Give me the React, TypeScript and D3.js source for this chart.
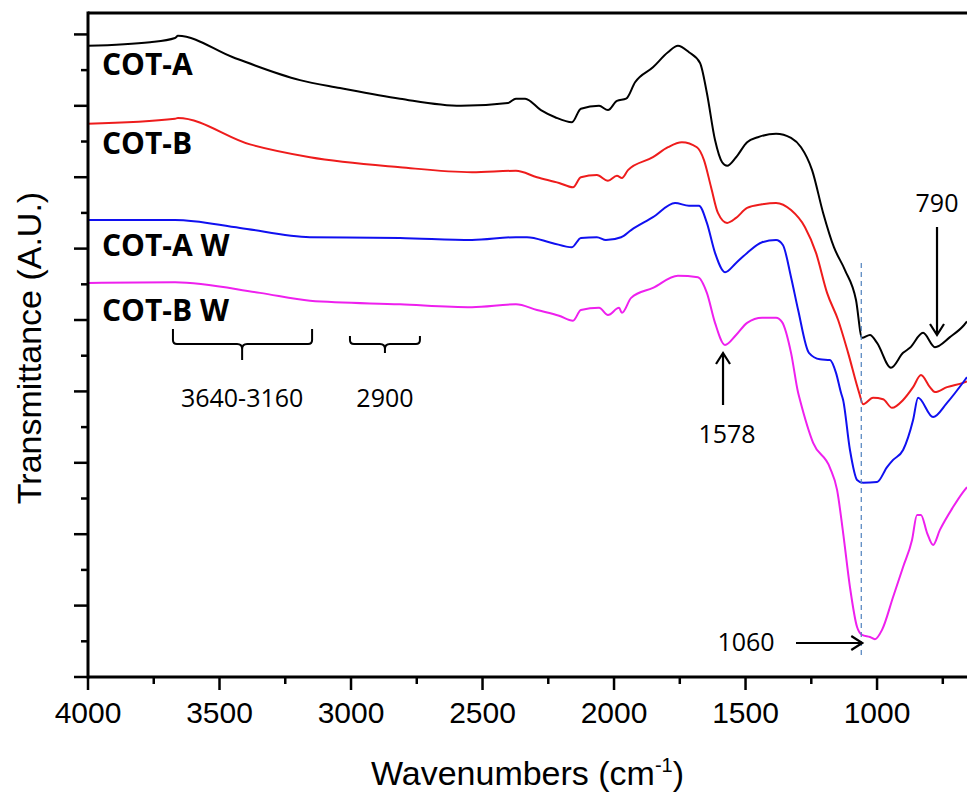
import React from "react";
import * as d3 from "d3";

// Wavenumber (cm-1), transmittance (A.U., offset traces)
const cotA: [number, number][] = [
  [4000, 88.4], [3764, 88.9], [3669, 89.5], [3658, 89.8], [3449, 86.8], [3194, 83.6], [3042, 82.5],
  [2814, 81.0], [2582, 80.0], [2403, 80.4], [2373, 81.0], [2338, 81.0], [2278, 79.4], [2224, 78.4],
  [2160, 77.7], [2126, 79.6], [2057, 80.0], [2023, 79.4], [1989, 80.7], [1954, 81.0], [1920, 83.3],
  [1852, 85.4], [1795, 87.5], [1757, 88.4], [1715, 87.5], [1673, 86.0], [1647, 81.8], [1616, 75.2],
  [1589, 72.1], [1570, 71.6], [1536, 72.8], [1494, 74.9], [1453, 75.6], [1384, 76.1], [1327, 75.5],
  [1289, 74.2], [1247, 71.0], [1205, 65.0], [1164, 60.2], [1122, 57.0], [1080, 52.8], [1057, 47.5],
  [1027, 47.9], [1000, 46.8], [947, 43.3], [901, 45.4], [875, 46.1], [825, 48.2], [780, 46.2],
  [723, 47.6], [669, 49.3], [658, 49.8],
];
const cotB: [number, number][] = [
  [4000, 77.5], [3669, 78.2], [3658, 78.3], [3384, 74.6], [3156, 72.8], [2814, 71.4], [2540, 70.7],
  [2373, 70.9], [2293, 70.0], [2209, 69.2], [2156, 68.6], [2126, 70.0], [2065, 70.3], [2023, 69.5],
  [1989, 70.2], [1970, 69.9], [1947, 71.0], [1852, 72.8], [1795, 74.2], [1742, 74.9], [1685, 74.2],
  [1658, 72.4], [1631, 68.6], [1605, 65.0], [1570, 63.6], [1536, 64.3], [1494, 65.7], [1437, 66.2],
  [1384, 66.4], [1327, 65.4], [1274, 63.0], [1232, 59.4], [1190, 53.8], [1148, 50.0], [1110, 45.4],
  [1068, 39.8], [1053, 38.2], [1015, 39.1], [977, 38.9], [943, 37.7], [901, 38.8], [863, 40.6],
  [833, 42.3], [799, 40.6], [780, 39.9], [734, 40.6], [673, 41.2], [658, 41.4],
];
const cotAW: [number, number][] = [
  [4000, 64.0], [3669, 64.0], [3422, 62.9], [3156, 61.6], [2814, 61.5], [2540, 61.2], [2373, 61.6],
  [2331, 61.6], [2236, 60.8], [2160, 60.2], [2126, 61.5], [2065, 61.6], [2031, 61.2], [1973, 61.6],
  [1935, 62.6], [1852, 64.4], [1768, 66.4], [1715, 66.0], [1677, 66.0], [1647, 63.6], [1616, 59.4],
  [1578, 56.7], [1536, 58.0], [1494, 59.4], [1437, 60.9], [1384, 61.2], [1358, 60.5], [1327, 56.0],
  [1300, 51.4], [1259, 45.4], [1217, 44.5], [1179, 44.4], [1156, 42.6], [1137, 39.8], [1129, 38.8],
  [1103, 31.8], [1076, 27.6], [1053, 27.2], [1000, 27.3], [962, 29.4], [939, 30.4], [901, 31.8],
  [863, 36.0], [844, 39.1], [787, 36.4], [734, 38.4], [666, 41.6], [658, 42.0],
];
const cotBW: [number, number][] = [
  [4000, 55.2], [3669, 55.3], [3346, 53.8], [3156, 52.7], [2814, 52.2], [2540, 51.8], [2373, 52.2],
  [2293, 51.4], [2209, 50.6], [2156, 49.9], [2126, 51.4], [2057, 51.7], [2023, 50.7], [1981, 51.7],
  [1970, 51.0], [1935, 53.1], [1852, 54.5], [1757, 56.2], [1681, 56.0], [1647, 53.8], [1616, 49.6],
  [1578, 46.5], [1536, 47.9], [1494, 49.6], [1437, 50.3], [1384, 50.3], [1361, 49.7], [1327, 45.4],
  [1300, 39.8], [1293, 38.8], [1243, 32.8], [1179, 29.3], [1152, 26.2], [1129, 20.2], [1103, 12.6],
  [1076, 7.0], [1057, 5.9], [1027, 5.6], [1008, 5.3], [981, 6.6], [939, 11.2], [901, 15.4],
  [867, 19.2], [848, 22.7], [833, 22.7], [810, 20.2], [787, 18.5], [761, 20.6], [711, 23.8],
  [673, 25.9], [658, 26.6],
];

const seriesNames = ["COT-A", "COT-B", "COT-A W", "COT-B W"];
const seriesData = [cotA, cotB, cotAW, cotBW];
const seriesColors = ["#000000", "#ee1c1c", "#1010f0", "#ee20ee"];
const labelY = [84.3, 73.2, 58.9, 49.8];

const xMajorTicks = [4000, 3500, 3000, 2500, 2000, 1500, 1000];
const xMinorTicks = [3750, 3250, 2750, 2250, 1750, 1250, 750];
const yMajorTicks = [0, 10, 20, 30, 40, 50, 60, 70, 80, 90];
const yMinorTicks = [5, 15, 25, 35, 45, 55, 65, 75, 85];

const W = 967;
const H = 796;
const L = 88;
const R = 967;
const T = 13;
const B = 677;

export default function App() {
  const x = d3.scaleLinear().domain([4000, 658]).range([L, R]);
  const y = d3.scaleLinear().domain([0, 93]).range([B, T]);
  const line = d3
    .line<[number, number]>()
    .x((d) => x(d[0]))
    .y((d) => y(d[1]))
    .curve(d3.curveMonotoneX);

  const sans = "'Liberation Sans', Arial, sans-serif";
  const ann = "'Open Sans', sans-serif";

  const bracket = (w1: number, w2: number, wc: number, top: number, h: number, stem: number) => {
    const l = x(w1), r = x(w2), c = x(wc);
    return `M${l},${top} L${l},${h - 4} Q${l},${h} ${l + 4},${h} L${c - 5},${h} Q${c},${h} ${c},${h + 5} L${c},${stem} M${c},${h + 5} Q${c},${h} ${c + 5},${h} L${r - 4},${h} Q${r},${h} ${r},${h - 4} L${r},${top}`;
  };

  return (
    <div style={{ position: "absolute", left: 0, top: 0 }}>
      <svg width={W} height={H} style={{ display: "block", background: "#fff" }}>
        <defs>
          <clipPath id="plot">
            <rect x={L} y={T} width={R - L} height={B - T} />
          </clipPath>
        </defs>
        <rect width={W} height={H} fill="#fff" />
        <g clipPath="url(#plot)">
          {seriesData.map((d, i) => (
            <path key={i} d={line(d) || ""} fill="none" stroke={seriesColors[i]} strokeWidth={2} strokeLinejoin="round" />
          ))}
        </g>
        {/* dashed 1060 line */}
        <line x1={x(1060)} x2={x(1060)} y1={263} y2={656} stroke="#4f81bd" strokeWidth={1.2} strokeDasharray="5,4" />
        {/* axes */}
        <line x1={L} x2={R} y1={B} y2={B} stroke="#000" strokeWidth={3} />
        <line x1={L} x2={R} y1={T} y2={T} stroke="#000" strokeWidth={3} />
        <line x1={L} x2={L} y1={T - 1.5} y2={B + 1.5} stroke="#000" strokeWidth={3} />
        {xMajorTicks.map((t) => (
          <g key={"xm" + t}>
            <line x1={x(t)} x2={x(t)} y1={B} y2={B + 13} stroke="#000" strokeWidth={2.5} />
            <text x={x(t)} y={723} textAnchor="middle" fontFamily={sans} fontSize={30}>{t}</text>
          </g>
        ))}
        {xMinorTicks.map((t) => (
          <line key={"xn" + t} x1={x(t)} x2={x(t)} y1={B} y2={B + 7} stroke="#000" strokeWidth={2.5} />
        ))}
        {yMajorTicks.map((t) => (
          <line key={"ym" + t} x1={L - 14} x2={L} y1={y(t)} y2={y(t)} stroke="#000" strokeWidth={2.5} />
        ))}
        {yMinorTicks.map((t) => (
          <line key={"yn" + t} x1={L - 7} x2={L} y1={y(t)} y2={y(t)} stroke="#000" strokeWidth={2.5} />
        ))}
        {/* axis titles */}
        <text x={(L + R) / 2} y={785} textAnchor="middle" fontFamily={sans} fontSize={34}>
          Wavenumbers (cm<tspan dy={-13} fontSize={20}>-1</tspan><tspan dy={13}>)</tspan>
        </text>
        <text transform={`translate(41,348) rotate(-90)`} textAnchor="middle" fontFamily={sans} fontSize={34}>
          Transmittance (A.U.)
        </text>
        {/* series labels */}
        {seriesNames.map((n, i) => (
          <text key={n} x={102} y={y(labelY[i])} fontFamily={ann} fontWeight={700} fontSize={30} fill="#000">{n}</text>
        ))}
        {/* brackets */}
        <path d={bracket(3677, 3148, 3414, 329, 344, 360)} fill="none" stroke="#000" strokeWidth={2} />
        <path d={bracket(3004, 2738, 2871, 336, 344, 353)} fill="none" stroke="#000" strokeWidth={2} />
        <text x={x(3414)} y={407} textAnchor="middle" fontFamily={ann} fontSize={25}>3640-3160</text>
        <text x={x(2871)} y={407} textAnchor="middle" fontFamily={ann} fontSize={25}>2900</text>
        {/* 1578 arrow */}
        <path d={`M${x(1578) - 2},405 L${x(1578) - 2},353 M${x(1578) - 9},364 L${x(1578) - 2},353 L${x(1578) + 5},364`} fill="none" stroke="#000" strokeWidth={2.2} />
        <text x={x(1578) + 2} y={443} textAnchor="middle" fontFamily={ann} fontSize={25}>1578</text>
        {/* 1060 arrow */}
        <path d={`M796,643 L${x(1060) + 1},643 M${x(1060) - 10},636 L${x(1060) + 1},643 L${x(1060) - 10},650`} fill="none" stroke="#000" strokeWidth={2.2} />
        <text x={746} y={651} textAnchor="middle" fontFamily={ann} fontSize={25}>1060</text>
        {/* 790 arrow */}
        <path d={`M${x(772)},227 L${x(772)},335 M${x(772) - 7},324 L${x(772)},335 L${x(772) + 7},324`} fill="none" stroke="#000" strokeWidth={2.2} />
        <text x={x(772)} y={212} textAnchor="middle" fontFamily={ann} fontSize={25}>790</text>
      </svg>
    </div>
  );
}
